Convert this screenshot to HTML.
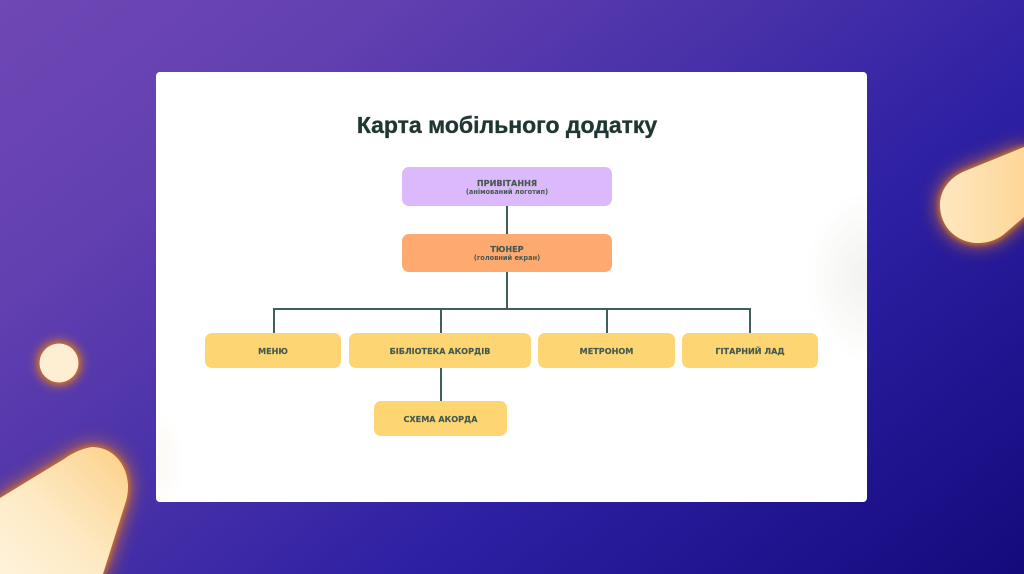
<!DOCTYPE html>
<html lang="uk">
<head>
<meta charset="utf-8">
<style>
html,body{margin:0;padding:0}
body{width:1024px;height:574px;overflow:hidden;position:relative;font-family:"Liberation Sans","DejaVu Sans",sans-serif;background:linear-gradient(142deg,#7047b5 0%,#6240b0 22%,#4730a8 45%,#2d20a3 65%,#140a7c 100%)}
svg.bg{position:absolute;left:0;top:0}
.card{position:absolute;left:156px;top:72px;width:711px;height:430px;background:#fff;border-radius:4px;overflow:hidden}
.shade1{position:absolute;left:650px;top:120px;width:122px;height:170px;background:radial-gradient(closest-side,#f3f2f0 0%,#f7f7f5 40%,#fff 100%)}
.shade2{position:absolute;left:-30px;top:340px;width:60px;height:100px;background:radial-gradient(closest-side,#fdf8f1 0%,#fff 100%)}
h1{position:absolute;left:0;top:39px;width:702px;margin:0;text-align:center;font-family:"Liberation Sans",sans-serif;font-size:23px;line-height:28px;font-weight:700;-webkit-text-stroke:.35px #1f3632;color:#1f3632}
.n{position:absolute;border-radius:7px;text-align:center;color:#45594f;font-family:"DejaVu Sans",sans-serif;font-weight:700;font-size:8.1px;display:flex;flex-direction:column;justify-content:center;line-height:9px;padding-top:1px;box-sizing:border-box;-webkit-text-stroke:.15px #45594f}
.n small{display:block;font-size:6.6px;line-height:8px;font-weight:700;-webkit-text-stroke:0}
.y{background:#fdd673}
.l{position:absolute;background:#3f5f5c}
</style>
</head>
<body>
<svg class="bg" width="1024" height="574" viewBox="0 0 1024 574">
<defs>
<filter id="g" x="-60%" y="-60%" width="220%" height="220%"><feGaussianBlur stdDeviation="9"/></filter>
<filter id="t" x="-50%" y="-50%" width="200%" height="200%"><feGaussianBlur stdDeviation="2.5"/></filter>
<filter id="g2" x="-60%" y="-60%" width="220%" height="220%"><feGaussianBlur stdDeviation="5"/></filter>
<linearGradient id="a" x1="0" y1="1" x2="1" y2="0"><stop offset="0" stop-color="#fff3dc"/><stop offset=".45" stop-color="#fde9c2"/><stop offset="1" stop-color="#fdd088"/></linearGradient>
<linearGradient id="b" x1="0" y1="0" x2="1" y2="0"><stop offset="0" stop-color="#fee8c0"/><stop offset="1" stop-color="#fdd797"/></linearGradient>
</defs>
<path d="M0 498 L64 459 Q78 449 92 447 C114 447 128 466 128 487 Q128 494 126 501 L103 574 L0 574Z" fill="#e07a20" stroke="#e07a20" stroke-width="6" opacity=".8" filter="url(#g)"/>
<path d="M0 498 L64 459 Q78 449 92 447 C114 447 128 466 128 487 Q128 494 126 501 L103 574 L0 574Z" fill="#c8702a" stroke="#c8702a" stroke-width="3" filter="url(#t)"/>
<path d="M0 498 L64 459 Q78 449 92 447 C114 447 128 466 128 487 Q128 494 126 501 L103 574 L0 574Z" fill="url(#a)"/>
<path d="M1024 147 L965 171 C950 177 940 190 940 205 C940 227 957 243 978 243 Q992 243 1003 235 L1024 217Z" fill="#e07a20" stroke="#e07a20" stroke-width="6" opacity=".8" filter="url(#g)"/>
<path d="M1024 147 L965 171 C950 177 940 190 940 205 C940 227 957 243 978 243 Q992 243 1003 235 L1024 217Z" fill="#c8702a" stroke="#c8702a" stroke-width="3" filter="url(#t)"/>
<path d="M1024 147 L965 171 C950 177 940 190 940 205 C940 227 957 243 978 243 Q992 243 1003 235 L1024 217Z" fill="url(#b)"/>
<circle cx="59" cy="363" r="23" fill="#d8782a" opacity=".8" filter="url(#g2)"/>
<circle cx="59" cy="363" r="20.5" fill="#c8702a" filter="url(#t)"/>
<circle cx="59" cy="363" r="19.5" fill="#feeed2"/>
</svg>
<div class="card">
<div class="shade1"></div>
<div class="shade2"></div>
<h1>Карта мобільного додатку</h1>
<div class="l" style="left:350px;top:133px;width:2px;height:29px"></div>
<div class="l" style="left:350px;top:200px;width:2px;height:37px"></div>
<div class="l" style="left:117px;top:236px;width:477px;height:2px"></div>
<div class="l" style="left:117px;top:236px;width:2px;height:26px"></div>
<div class="l" style="left:284px;top:236px;width:2px;height:26px"></div>
<div class="l" style="left:450px;top:236px;width:2px;height:26px"></div>
<div class="l" style="left:593px;top:236px;width:2px;height:26px"></div>
<div class="l" style="left:284px;top:295px;width:2px;height:35px"></div>
<div class="n" style="left:246px;top:95px;width:210px;height:39px;background:#dcb9fd">ПРИВІТАННЯ<small>(анімований логотип)</small></div>
<div class="n" style="left:246px;top:162px;width:210px;height:38px;background:#fea96f">ТЮНЕР<small>(головний екран)</small></div>
<div class="n y" style="left:49px;top:261px;width:136px;height:35px">МЕНЮ</div>
<div class="n y" style="left:193px;top:261px;width:182px;height:35px">БІБЛІОТЕКА АКОРДІВ</div>
<div class="n y" style="left:382px;top:261px;width:137px;height:35px">МЕТРОНОМ</div>
<div class="n y" style="left:526px;top:261px;width:136px;height:35px">ГІТАРНИЙ ЛАД</div>
<div class="n y" style="left:218px;top:329px;width:133px;height:35px">СХЕМА АКОРДА</div>
</div>
</body>
</html>
